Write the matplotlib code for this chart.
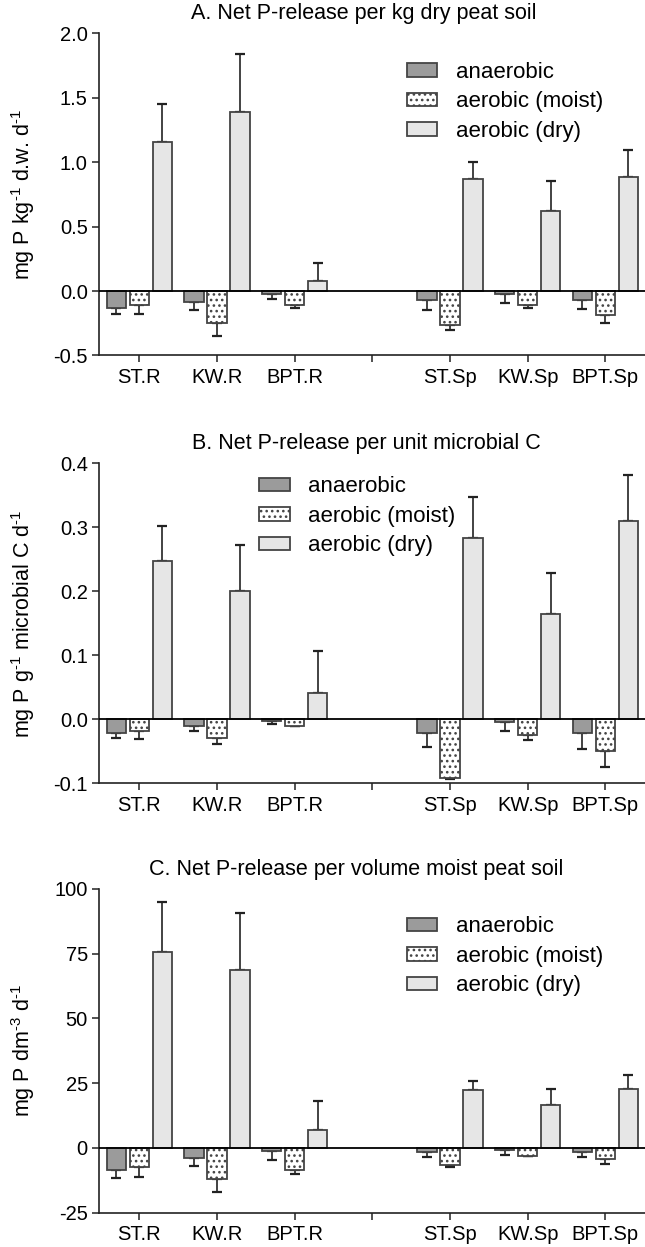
import numpy as np
import matplotlib
matplotlib.use("Agg")
import matplotlib.pyplot as plt

plt.rcParams['font.family'] = ['Liberation Sans', 'DejaVu Sans']
plt.rcParams['mathtext.fontset'] = 'custom'
plt.rcParams['mathtext.rm'] = 'Liberation Sans'
plt.rcParams['mathtext.default'] = 'regular'
plt.rcParams['hatch.linewidth'] = 1.1
plt.rcParams['hatch.color'] = 'black'

categories = ['ST.R', 'KW.R', 'BPT.R', '', 'ST.Sp', 'KW.Sp', 'BPT.Sp']
positions = [0, 1, 2, 4, 5, 6]
series = ['anaerobic', 'aerobic (moist)', 'aerobic (dry)']

# Panel A: per kg dry peat soil
a_anaer = [-0.13, -0.085, -0.02, -0.072, -0.023, -0.072]
a_moist = [-0.11, -0.25, -0.108, -0.265, -0.11, -0.186]
a_dry = [1.16, 1.39, 0.08, 0.87, 0.624, 0.887]
a_anaer_err = [0.05, 0.065, 0.045, 0.072, 0.07, 0.065]
a_moist_err = [0.07, 0.095, 0.022, 0.035, 0.024, 0.061]
a_dry_err = [0.29, 0.45, 0.14, 0.135, 0.23, 0.21]

# Panel B: per unit microbial C
b_anaer = [-0.021, -0.010, -0.003, -0.021, -0.004, -0.022]
b_moist = [-0.018, -0.029, -0.010, -0.092, -0.024, -0.050]
b_dry = [0.248, 0.201, 0.041, 0.283, 0.164, 0.310]
b_anaer_err = [0.008, 0.008, 0.005, 0.022, 0.015, 0.024]
b_moist_err = [0.013, 0.010, 0.001, 0.001, 0.008, 0.024]
b_dry_err = [0.054, 0.072, 0.066, 0.065, 0.065, 0.072]

# Panel C: per volume moist peat soil
c_anaer = [-8.4, -4.1, -1.2, -1.7, -0.9, -1.7]
c_moist = [-7.3, -12.2, -8.4, -6.7, -3.0, -4.5]
c_dry = [75.5, 68.6, 7.0, 22.3, 16.6, 22.8]
c_anaer_err = [3.3, 3.1, 3.6, 1.9, 1.7, 1.7]
c_moist_err = [4.0, 4.8, 1.8, 0.8, 0.3, 1.6]
c_dry_err = [19.4, 22.1, 10.9, 3.5, 6.0, 5.4]

W, H = 645, 1247
fig = plt.figure(figsize=(W / 100, H / 100), dpi=100)

fills = ['#9b9b9b', 'white', '#e6e6e6']
hatches = [None, '...', None]
edge = '#444444'
offsets = [-0.295, 0.0, 0.295]
bw = 0.25

panels = [
    dict(vals=[a_anaer, a_moist, a_dry], errs=[a_anaer_err, a_moist_err, a_dry_err],
         top=33.3, bot=355.5, ylim=(-0.5, 2.0), yticks=[-0.5, 0.0, 0.5, 1.0, 1.5, 2.0],
         fmt='{:.1f}', title='A. Net P-release per kg dry peat soil', tx=364,
         ylabel=r'mg P kg$^{\text{-1}}$ d.w. d$^{\text{-1}}$', leg=(406.7, 74)),
    dict(vals=[b_anaer, b_moist, b_dry], errs=[b_anaer_err, b_moist_err, b_dry_err],
         top=463.3, bot=783.3, ylim=(-0.1, 0.4), yticks=[-0.1, 0.0, 0.1, 0.2, 0.3, 0.4],
         fmt='{:.1f}', title='B. Net P-release per unit microbial C', tx=366,
         ylabel=r'mg P g$^{\text{-1}}$ microbial C d$^{\text{-1}}$', leg=(259.3, 488.3)),
    dict(vals=[c_anaer, c_moist, c_dry], errs=[c_anaer_err, c_moist_err, c_dry_err],
         top=889.0, bot=1212.5, ylim=(-25, 100), yticks=[-25, 0, 25, 50, 75, 100],
         fmt='{:.0f}', title='C. Net P-release per volume moist peat soil', tx=356,
         ylabel=r'mg P dm$^{\text{-3}}$ d$^{\text{-1}}$', leg=(406.7, 928.3)),
]

left_px, right_px = 99.3, 645.0
for p in panels:
    ax = fig.add_axes([left_px / W, 1 - p['bot'] / H, (right_px - left_px) / W, (p['bot'] - p['top']) / H])
    x = np.array(positions, dtype=float)
    handles = []
    for i in range(3):
        v = np.array(p['vals'][i])
        e = np.array(p['errs'][i])
        bars = ax.bar(x + offsets[i], v, width=bw, color=fills[i], edgecolor=edge,
                      linewidth=1.3, hatch=hatches[i], zorder=2, label=series[i])
        handles.append(bars)
        lower = np.where(v < 0, e, 0.0)
        upper = np.where(v >= 0, e, 0.0)
        ax.errorbar(x + offsets[i], v, yerr=[lower, upper], fmt='none', ecolor='#222222',
                    elinewidth=1.2, capsize=3.8, capthick=1.6, zorder=1)
    ax.axhline(0, color='black', lw=1.3, zorder=3)
    ax.set_xlim(-0.515, 6.51)
    ax.set_ylim(*p['ylim'])
    ax.set_yticks(p['yticks'])
    ax.set_yticklabels([p['fmt'].format(t) for t in p['yticks']])
    ax.set_xticks(range(7))
    ax.set_xticklabels(categories)
    ax.tick_params(axis='both', labelsize=14.5, length=5.3, width=1.1, color='#222222', pad=3)
    ax.tick_params(axis='x', pad=4)
    for s in ['top', 'right']:
        ax.spines[s].set_visible(False)
    for s in ['left', 'bottom']:
        ax.spines[s].set_linewidth(1.2)
        ax.spines[s].set_color('#222222')
    ax.set_ylabel(p['ylabel'], fontsize=15.5)
    ax.yaxis.set_label_coords(-0.115, 0.5)
    fig.text(p['tx'] / W, 1 - (p['top'] - 20) / H, p['title'], fontsize=15.5,
             ha='center', va='center')
    lx, ly = p['leg']
    ax.legend(handles=handles, loc='upper left', bbox_to_anchor=(lx / W, 1 - (ly - 12) / H),
              bbox_transform=fig.transFigure, frameon=False, fontsize=16,
              handlelength=1.36, handleheight=0.56, handletextpad=0.85,
              labelspacing=0.38, borderpad=0, borderaxespad=0)

fig.savefig('out.png', dpi=100)
